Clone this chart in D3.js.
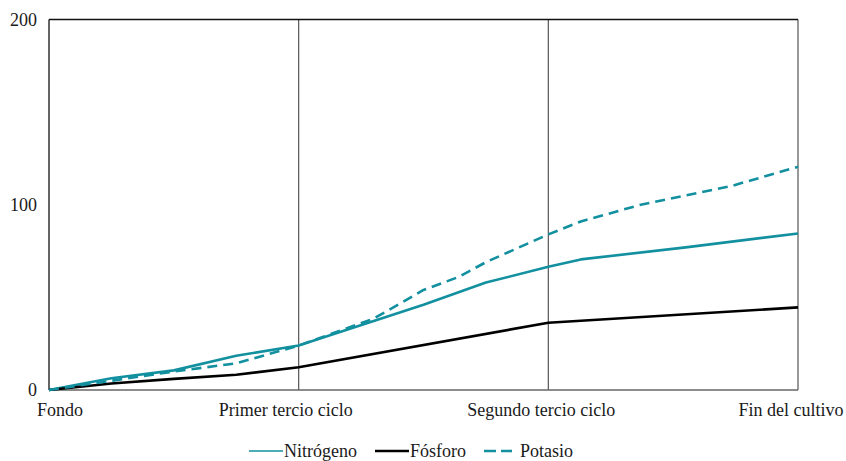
<!DOCTYPE html>
<html>
<head>
<meta charset="utf-8">
<script src="https://cdn.jsdelivr.net/npm/d3@7"></script>
<style>
  body { margin: 0; background: #fff; }
  svg { display: block; }
</style>
</head>
<body>
<svg id="chart" width="846" height="461"></svg>
<script>
// ---- Data ----
const stageLabels = ["Fondo", "Primer tercio ciclo", "Segundo tercio ciclo", "Fin del cultivo"];
const yTicks = [0, 100, 200];

const nitrogenoX = [0, 0.25, 0.5, 0.75, 1, 1.5, 1.75, 2, 2.13, 2.55, 3];
const nitrogenoY = [0, 6.3, 10.6, 18.5, 24, 46, 58, 66.5, 70.5, 77, 84.5];

const fosforoX = [0, 0.25, 0.5, 0.75, 1, 2, 3];
const fosforoY = [0, 3.5, 6, 8.2, 12.3, 36.3, 44.6];

const potasioX = [0, 0.25, 0.5, 0.75, 1, 1.3, 1.5, 1.64, 1.75, 2, 2.13, 2.37, 2.55, 2.73, 3];
const potasioY = [0, 5, 10, 14.4, 24, 38.5, 54, 61, 69, 84, 91, 100, 105, 110, 120.5];

const seriesNames = ["Nitrógeno", "Fósforo", "Potasio"];

(function () {
const FONT = "'Liberation Serif', 'Times New Roman', 'DejaVu Serif', serif";
const FS = 18;
const svg = d3.select("#chart");
const pLeft = 49, pRight = 798, pTop = 19.5, pBottom = 390;
const teal = "#12909f";

const x = d3.scaleLinear().domain([0, stageLabels.length - 1]).range([pLeft, pRight]);
const y = d3.scaleLinear().domain([0, 200]).range([pBottom, pTop]);

svg.append("g").selectAll("line")
  .data(d3.range(1, stageLabels.length))
  .join("line")
  .attr("x1", d => x(d)).attr("x2", d => x(d))
  .attr("y1", pTop).attr("y2", pBottom)
  .attr("stroke", "#555").attr("stroke-width", 1.2);

svg.append("line")
  .attr("x1", pLeft).attr("x2", pRight).attr("y1", pTop).attr("y2", pTop)
  .attr("stroke", "#111").attr("stroke-width", 1.3);

svg.append("line")
  .attr("x1", pLeft).attr("x2", pRight).attr("y1", pBottom).attr("y2", pBottom)
  .attr("stroke", "#666").attr("stroke-width", 1.6);

svg.append("line")
  .attr("x1", pLeft).attr("x2", pLeft).attr("y1", pTop).attr("y2", pBottom)
  .attr("stroke", "#111").attr("stroke-width", 1.3);

svg.append("g").selectAll("text")
  .data(yTicks)
  .join("text")
  .attr("x", 37).attr("y", d => y(d))
  .attr("dy", "0.35em")
  .attr("text-anchor", "end")
  .attr("font-family", FONT)
  .attr("font-size", FS)
  .attr("fill", "#1a1a1a")
  .text(d => d);

svg.append("g").selectAll("text")
  .data(stageLabels)
  .join("text")
  .attr("x", (d, i) => x(i) + (i === 0 ? -12 : i === 1 ? -13 : -7))
  .attr("y", 416)
  .attr("text-anchor", (d, i) => i === 0 ? "start" : "middle")
  .attr("font-family", FONT)
  .attr("font-size", FS)
  .attr("fill", "#1a1a1a")
  .text(d => d);

const line = d3.line().x(d => x(d[0])).y(d => y(d[1]));
const series = [
  { xs: nitrogenoX, ys: nitrogenoY, color: teal, dash: null },
  { xs: fosforoX, ys: fosforoY, color: "#000", dash: null },
  { xs: potasioX, ys: potasioY, color: teal, dash: "10,6" }
];
series.forEach(s => {
  svg.append("path")
    .datum(s.xs.map((v, i) => [v, s.ys[i]]))
    .attr("d", line)
    .attr("fill", "none")
    .attr("stroke", s.color)
    .attr("stroke-width", 2.6)
    .attr("stroke-linejoin", "round")
    .attr("stroke-dasharray", s.dash);
});

const legendItems = [
  { name: seriesNames[0], color: teal, dash: null, x1: 249, x2: 283, tx: 284, w: 1.6 },
  { name: seriesNames[1], color: "#000", dash: null, x1: 375, x2: 409, tx: 410, w: 2.6 },
  { name: seriesNames[2], color: teal, dash: "12,5", x1: 484, x2: 512, tx: 520, w: 2.6 }
];
const lg = svg.append("g");
legendItems.forEach(it => {
  lg.append("line")
    .attr("x1", it.x1).attr("x2", it.x2).attr("y1", 451).attr("y2", 451)
    .attr("stroke", it.color).attr("stroke-width", it.w)
    .attr("stroke-dasharray", it.dash);
  lg.append("text")
    .attr("x", it.tx).attr("y", 457)
    .attr("font-family", FONT)
    .attr("font-size", FS)
    .attr("fill", "#1a1a1a")
    .text(it.name);
});
})();
</script>
</body>
</html>
